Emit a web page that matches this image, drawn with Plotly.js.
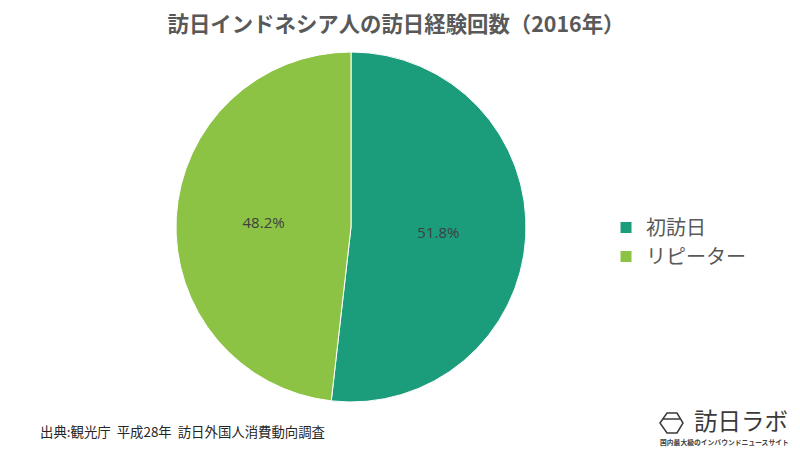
<!DOCTYPE html>
<html><head><meta charset="utf-8">
<script src="https://cdn.plot.ly/plotly-3.0.1.min.js"></script>
<style>html,body{margin:0;padding:0;background:#fff}#c{width:800px;height:450px}</style>
</head><body><div id="c"></div>
<script>
const categories = ["初訪日", "リピーター"];
const values = [51.8, 48.2];
const colors = ["#1b9c7b", "#8cc345"];
const titleText = "訪日インドネシア人の訪日経験回数（2016年）";
const sourceText = "出典:観光庁  平成28年  訪日外国人消費動向調査";
const logoText = "訪日ラボ";
const logoSub = "国内最大級のインバウンドニュースサイト";
const W = 800, H = 450;
const cjk = '"Noto Sans CJK JP", "Noto Sans", sans-serif';
const px = v => v / W, py = v => 1 - v / H;
Plotly.newPlot("c", [{
  type: "pie", labels: categories, values: values, sort: false, direction: "clockwise", rotation: 0,
  marker: {colors: colors, line: {color: "#ffffff", width: 1}},
  textinfo: "percent", texttemplate: "%{percent:.1%}", textposition: "inside", insidetextorientation: "horizontal",
  textfont: {family: '"Open Sans", sans-serif', size: 15, color: "#404040"},
  domain: {x: [px(176), px(526)], y: [py(402), py(52)]},
  hoverinfo: "label+percent"
}], {
  width: W, height: H, margin: {l: 0, r: 0, t: 0, b: 0}, paper_bgcolor: "#fff",
  font: {family: cjk, color: "#595959"},
  title: {text: titleText, font: {family: cjk, size: 21.4, color: "#595959", weight: "bold"}, x: 396 / W, xanchor: "center", y: 1 - 25 / H, yanchor: "middle"},
  showlegend: true,
  legend: {x: px(606), y: py(208), xanchor: "left", yanchor: "top", font: {family: cjk, size: 20, color: "#595959"}, itemwidth: 30, tracegroupgap: 0, bgcolor: "rgba(0,0,0,0)"},
  annotations: [
    {text: sourceText, xref: "paper", yref: "paper", x: px(38), y: py(431), xanchor: "left", yanchor: "middle", showarrow: false, font: {family: cjk, size: 13.4, color: "#262626"}},
    {text: logoText, xref: "paper", yref: "paper", x: px(692), y: py(419.5), xanchor: "left", yanchor: "middle", showarrow: false, font: {family: cjk, size: 23.5, color: "#3a3a3a"}},
    {text: logoSub, xref: "paper", yref: "paper", x: px(658), y: py(442), xanchor: "left", yanchor: "middle", showarrow: false, font: {family: cjk, size: 6.8, color: "#404040", weight: "bold"}}
  ],
  shapes: [
    {type: "path", xref: "paper", yref: "paper", line: {color: "#3a3a3a", width: 1.5}, fillcolor: "rgba(0,0,0,0)",
     path: `M ${px(660)} ${py(423)} L ${px(667)} ${py(413)} L ${px(677)} ${py(413)} L ${px(683)} ${py(423)} L ${px(677)} ${py(433)} L ${px(667)} ${py(433)} Z`},
    {type: "line", xref: "paper", yref: "paper", x0: px(663), x1: px(680), y0: py(419), y1: py(419), line: {color: "#3a3a3a", width: 1.5}}
  ]
}, {displayModeBar: false, staticPlot: true});
</script></body></html>
